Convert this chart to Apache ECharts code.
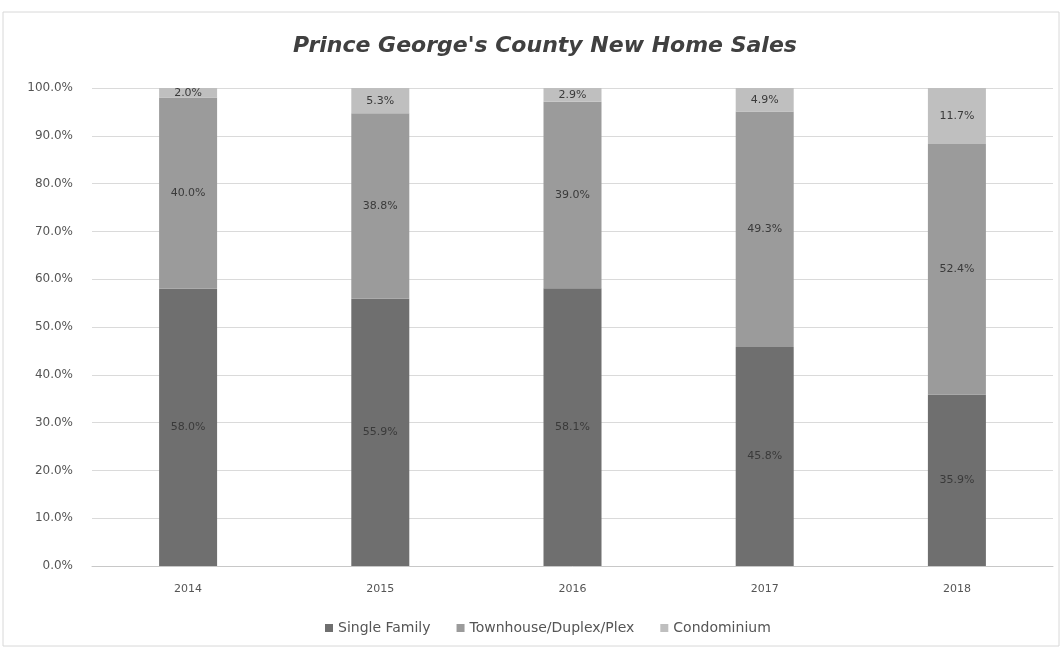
<!DOCTYPE html>
<html><head><meta charset="utf-8">
<script src="https://cdn.jsdelivr.net/npm/echarts@6/dist/echarts.min.js"></script>
<style>html,body{margin:0;padding:0;background:#fff}#c{width:1062px;height:649px}</style>
</head><body><div id="c"></div>
<script>
const categories = ['2014','2015','2016','2017','2018'];
const singleFamily = [58.0, 55.9, 58.1, 45.8, 35.9];
const townhouse = [40.0, 38.8, 39.0, 49.3, 52.4];
const condominium = [2.0, 5.3, 2.9, 4.9, 11.7];
const yTicks = [0,10,20,30,40,50,60,70,80,90,100];

const chart = echarts.init(document.getElementById('c'));
const lbl = {show:true, position:'inside', color:'#3a3a3a', fontSize:11, fontFamily:'DejaVu Sans', formatter: p => p.value.toFixed(1)+'%'};
chart.setOption({
  animation:false,
  backgroundColor:'#fff',
  title:{text:"Prince George's County New Home Sales", left:288, top:30,
    textStyle:{fontFamily:'DejaVu Sans', fontSize:22, fontWeight:'bold', fontStyle:'italic', color:'#404040'}},
  legend:{bottom:9, left:320, itemWidth:8, itemHeight:8, itemGap:26, icon:'rect',
    textStyle:{fontFamily:'DejaVu Sans', fontSize:14, color:'#555'}},
  grid:{left:92, right:9, top:88, bottom:83},
  xAxis:{type:'category', data:categories,
    axisLine:{lineStyle:{color:'#c8c8c8'}}, axisTick:{show:false},
    axisLabel:{color:'#555', fontSize:11, fontFamily:'DejaVu Sans', margin:18}},
  yAxis:{type:'value', min:0, max:100, interval:10,
    axisLabel:{color:'#555', fontSize:12, fontFamily:'DejaVu Sans', margin:19, formatter: v => v.toFixed(1)+'%'},
    splitLine:{lineStyle:{color:'#dadada'}}, axisLine:{show:false}, axisTick:{show:false}},
  series:[
    {name:'Single Family', type:'bar', stack:'a', barWidth:58, data:singleFamily, itemStyle:{color:'#6f6f6f'}, label:lbl},
    {name:'Townhouse/Duplex/Plex', type:'bar', stack:'a', barWidth:58, data:townhouse, itemStyle:{color:'#9b9b9b'}, label:lbl},
    {name:'Condominium', type:'bar', stack:'a', barWidth:58, data:condominium, itemStyle:{color:'#bfbfbf'}, label:lbl}
  ],
  graphic:[{type:'rect', shape:{x:3,y:12,width:1056,height:634}, style:{fill:'none', stroke:'#d8d8d8', lineWidth:1}, silent:true}]
});
</script></body></html>
